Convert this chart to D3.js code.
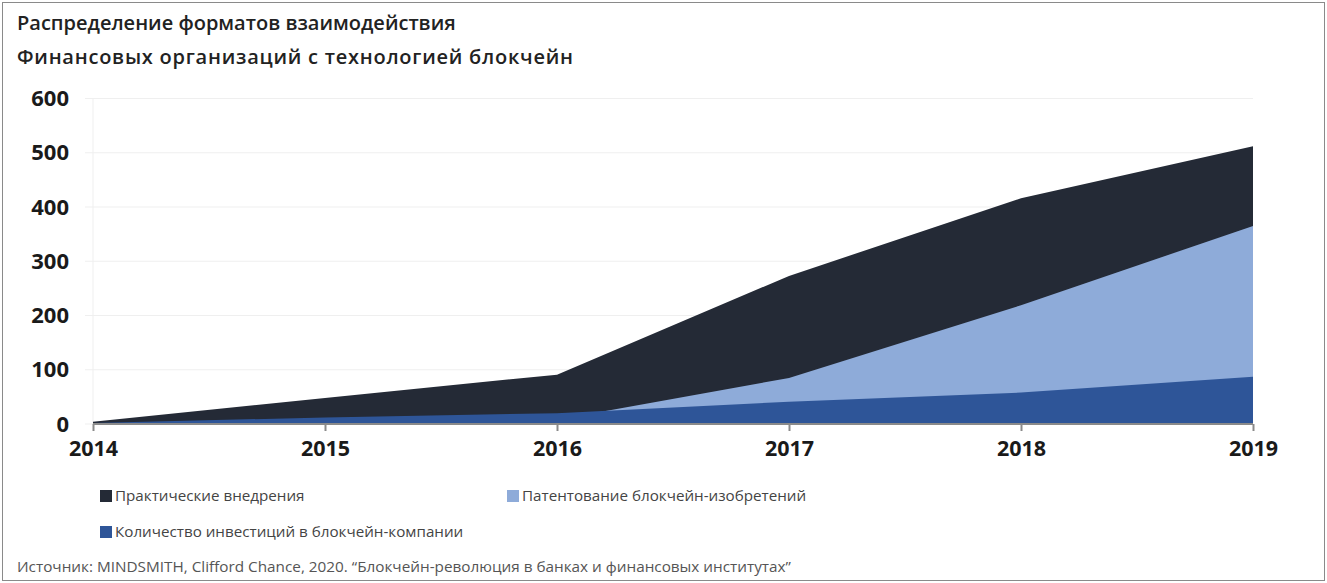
<!DOCTYPE html>
<html>
<head>
<meta charset="utf-8">
<script src="https://cdn.jsdelivr.net/npm/d3@7"></script>
<style>
  html, body { margin: 0; padding: 0; background: #fff; }
  svg { display: block; font-family: "Open Sans", sans-serif; }
</style>
</head>
<body>
<svg id="chart" width="1327" height="583"></svg>
<script>
// Years on the x axis
const years = [2014, 2015, 2016, 2017, 2018, 2019];
// Each series is drawn as its own area from zero (overlapping, back to front)
const practical   = [4, 48, 91, 273, 416, 512];   // Практические внедрения
const patents     = [0, 3, 8, 85, 219, 365];      // Патентование блокчейн-изобретений
const investments = [2, 12, 20, 41, 58, 87];      // Количество инвестиций в блокчейн-компании
const yTicks = [0, 100, 200, 300, 400, 500, 600];

const seriesNames = [
  "Практические внедрения",
  "Патентование блокчейн-изобретений",
  "Количество инвестиций в блокчейн-компании"
];
const seriesColors = ["#242a36", "#8eabd9", "#2e5598"];
const seriesValues = [practical, patents, investments];

const svg = d3.select("#chart");

// frame
svg.append("rect")
  .attr("x", 2.5).attr("y", 2.5).attr("width", 1322).attr("height", 578)
  .attr("fill", "none").attr("stroke", "#8a8a8a").attr("stroke-width", 1);

// title
const title = svg.append("text")
  .attr("fill", "#222").attr("font-size", 20).attr("font-weight", 600);
title.append("tspan").attr("x", 17).attr("y", 30)
  .text("Распределение форматов взаимодействия");
title.append("tspan").attr("x", 17).attr("y", 64)
  .attr("textLength", 556).attr("lengthAdjust", "spacing")
  .text("Финансовых организаций с технологией блокчейн");

const x = d3.scaleLinear().domain([2014, 2019]).range([93, 1253]);
const y = d3.scaleLinear().domain([0, 600]).range([424, 98.5]);

// horizontal gridlines
svg.append("g").selectAll("line").data(yTicks.filter(d => d > 0)).join("line")
  .attr("x1", 85).attr("x2", 1253)
  .attr("y1", d => y(d)).attr("y2", d => y(d))
  .attr("stroke", "#efefef").attr("stroke-width", 1);

// left axis line
svg.append("line")
  .attr("x1", 93).attr("x2", 93).attr("y1", y(600)).attr("y2", y(0))
  .attr("stroke", "#efefef");
svg.append("line")
  .attr("x1", 85).attr("x2", 93).attr("y1", y(0)).attr("y2", y(0))
  .attr("stroke", "#efefef");

// areas
const area = d3.area()
  .x((d, i) => x(years[i]))
  .y0(y(0))
  .y1(d => y(d));

svg.append("g").selectAll("path").data(seriesValues).join("path")
  .attr("d", d => area(d))
  .attr("fill", (d, i) => seriesColors[i]);

// y axis labels
svg.append("g").selectAll("text").data(yTicks).join("text")
  .attr("x", 69).attr("y", d => y(d))
  .attr("dy", "0.35em")
  .attr("text-anchor", "end")
  .attr("font-size", 22).attr("font-weight", 700).attr("fill", "#1a1a1a")
  .text(d => d);

// x axis
const xAxis = d3.axisBottom(x)
  .tickValues(years)
  .tickFormat(d3.format("d"))
  .tickSize(7)
  .tickPadding(10);
const gx = svg.append("g").attr("transform", `translate(0,${y(0)})`).call(xAxis);
gx.select(".domain").attr("stroke", "#8a8a8a").attr("stroke-width", 2)
  .attr("d", `M${x(2014)},0H${x(2019)}`);
gx.selectAll(".tick line").attr("stroke", "#8a8a8a").attr("stroke-width", 2);
gx.selectAll(".tick text")
  .attr("font-family", "Open Sans, sans-serif")
  .attr("font-size", 21.5).attr("font-weight", 700).attr("fill", "#1a1a1a");

// legend
const legendPos = [[100, 496], [507, 496], [100, 532]];
const lg = svg.append("g").selectAll("g").data(seriesNames).join("g")
  .attr("transform", (d, i) => `translate(${legendPos[i][0]},${legendPos[i][1]})`);
lg.append("rect").attr("x", 0).attr("y", -6).attr("width", 12).attr("height", 12)
  .attr("fill", (d, i) => seriesColors[i]);
lg.append("text").attr("x", 15).attr("y", 0).attr("dy", "0.35em")
  .attr("font-size", 15.2).attr("fill", "#444")
  .text(d => d);

// source
svg.append("text")
  .attr("x", 17).attr("y", 567).attr("dy", "0.35em")
  .attr("font-size", 15.3).attr("fill", "#555")
  .text("Источник: MINDSMITH, Clifford Chance, 2020. “Блокчейн-революция в банках и финансовых институтах”");
</script>
</body>
</html>
